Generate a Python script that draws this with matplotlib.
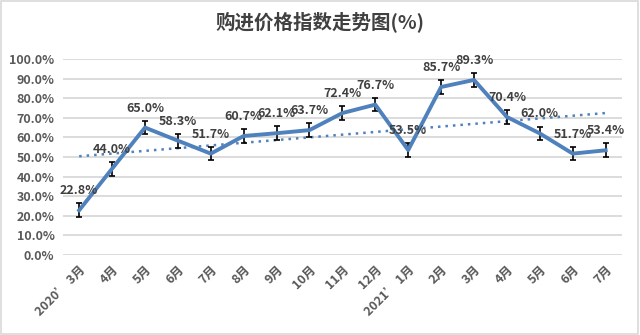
import numpy as np
import matplotlib
matplotlib.use("Agg")
import matplotlib.pyplot as plt

plt.rcParams['font.family'] = ['Noto Sans CJK SC', 'DejaVu Sans']

# data
months = ["2020’ 3月", "4月", "5月", "6月", "7月", "8月", "9月", "10月", "11月", "12月",
          "2021’ 1月", "2月", "3月", "4月", "5月", "6月", "7月"]
index_values = [22.8, 44.0, 65.0, 58.3, 51.7, 60.7, 62.1, 63.7, 72.4, 76.7,
                53.5, 85.7, 89.3, 70.4, 62.0, 51.7, 53.4]
err = 3.5

line_color = "#4F81BD"
text_color = "#404040"

fig = plt.figure(figsize=(6.4, 3.35), dpi=100)
ax = fig.add_axes([0.098, 0.239, 0.874, 0.585])

x = np.arange(len(months))
ax.errorbar(x, index_values, yerr=err, color=line_color, lw=2.8,
            ecolor="black", elinewidth=1.2, capsize=2.5, capthick=1.2, zorder=3)

# linear trend line
k, b = np.polyfit(x, index_values, 1)
ax.plot(x, k * x + b, ls=(0, (1, 2)), color=line_color, lw=1.8, zorder=2)

for xi, v in zip(x, index_values):
    ax.annotate(f"{v:.1f}%", (xi, v), xytext=(0, 14), textcoords="offset points",
                ha="center", va="center", fontsize=9, fontweight="bold",
                color=text_color, zorder=4)

ax.set_xlim(-0.5, len(months) - 0.5)
ax.set_ylim(0, 100)
ax.set_yticks(np.arange(0, 101, 10))
ax.set_yticklabels([f"{t:.1f}%" for t in np.arange(0, 101, 10)],
                   fontsize=9, fontweight="bold", color="#595959")
ax.set_xticks(x)
ax.set_xticklabels(months, rotation=45, ha="right", rotation_mode="anchor",
                   fontsize=9, fontweight="bold", color="#595959")
ax.tick_params(length=0, pad=6)
ax.grid(axis="y", color="#D9D9D9", lw=1.3)
ax.set_axisbelow(True)
for s in ax.spines.values():
    s.set_visible(False)

fig.text(0.5, 0.935, "购进价格指数走势图(%)", ha="center", va="center",
         fontsize=14, fontweight="bold", color=text_color)

# light border round the chart
fig.patches.append(plt.Rectangle((0.002, 0.003), 0.995, 0.994, transform=fig.transFigure,
                                 fill=False, edgecolor="#D9D9D9", lw=1.2))

fig.savefig("out.png", dpi=100)
